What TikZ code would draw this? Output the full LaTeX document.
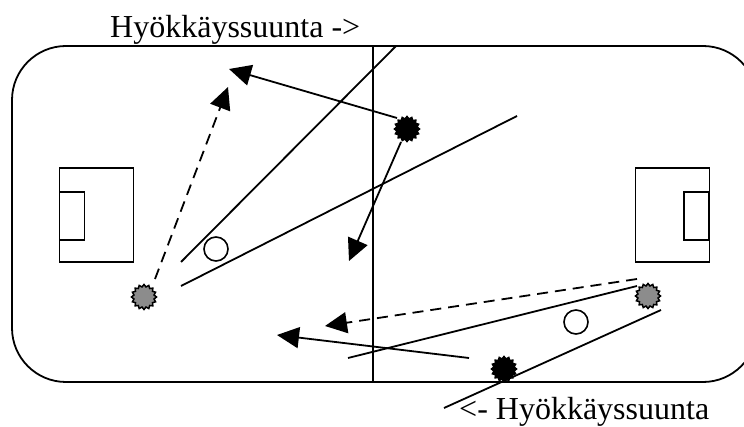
\documentclass[tikz,border=0pt]{standalone}
\usepackage{fontspec}
\setmainfont{Liberation Serif}
\usetikzlibrary{positioning, shapes.geometric, arrows.meta}
\definecolor{playergray}{HTML}{8c8c8c}

\begin{document}
\begin{tikzpicture}[
  x=1pt, y=-1pt,
  field/.style={draw=black, line width=1.8pt},
  goalbox/.style={draw=black, line width=1.8pt, minimum width=74pt, minimum height=94pt, inner sep=0pt},
  goalarea/.style={draw=black, line width=1.8pt, minimum width=25pt, minimum height=48pt, inner sep=0pt},
  player/.style={star, star points=16, star point ratio=1.22, minimum size=25pt, inner sep=0pt, draw=black, line width=1.5pt},
  attacker/.style={player, fill=black},
  defender/.style={player, fill=playergray},
  ball/.style={circle, draw=black, line width=1.6pt, fill=white, minimum size=24pt, inner sep=0pt},
  run/.style={black, line width=1.8pt},
  pass/.style={run, -{Triangle[length=22pt, width=21pt]}},
  longpass/.style={pass, dash pattern=on 11pt off 7pt},
  label/.style={font=\fontsize{32}{36}\selectfont, inner sep=0pt, anchor=base west}
]
\useasboundingbox (0,0) rectangle (744,427);
\clip (0,0) rectangle (744,427);

% field
\draw[field, rounded corners=54pt] (12,46) rectangle (757,382);
\coordinate (midtop) at (373,46);
\coordinate (midbottom) at (373,382);
\draw[field] (midtop) -- (midbottom);

% goals
\node[goalbox] (goalleft) at (96.5,215) {};
\node[goalarea] (arealeft) at (72,216) {};
\node[goalbox] (goalright) at (672.5,215) {};
\node[goalarea] (arearight) at (696.5,216) {};

% players and balls
\node[attacker] (blacktop) at (407,129) {};
\node[attacker] (blackbottom) at (504,369) {};
\node[defender] (grayleft) at (144,297) {};
\node[defender] (grayright) at (648,296) {};
\node[ball] (ballleft) at (216,249) {};
\node[ball] (ballright) at (576,322) {};

% free ends
\coordinate (a1) at (396,46);
\coordinate (a2) at (181,262);
\coordinate (b1) at (517,116);
\coordinate (b2) at (181,286);
\coordinate (c1) at (397,118);
\coordinate (c2) at (229,69);
\coordinate (d1) at (155,279);
\coordinate (d2) at (228,87);
\coordinate (e1) at (401,142);
\coordinate (e2) at (349,261);
\coordinate (f1) at (637,286);
\coordinate (f2) at (348,358);
\coordinate (g1) at (637,279);
\coordinate (g2) at (325,326);
\coordinate (h1) at (469,358);
\coordinate (h2) at (277,335);
\coordinate (i1) at (661,310);
\coordinate (i2) at (444,408);

\draw[run] (a1) -- (a2);
\draw[run] (b1) -- (b2);
\draw[pass] (c1) -- (c2);
\draw[longpass] (d1) -- (d2);
\draw[pass] (e1) -- (e2);
\draw[run] (f1) -- (f2);
\draw[longpass] (g1) -- (g2);
\draw[pass] (h1) -- (h2);
\draw[run] (i1) -- (i2);

% texts
\node[label] (dirtop) at (110,38) {Hyökkäyssuunta ->};
\node[label] (dirbottom) at (459,419.5) {<- Hyökkäyssuunta};
\end{tikzpicture}
\end{document}
